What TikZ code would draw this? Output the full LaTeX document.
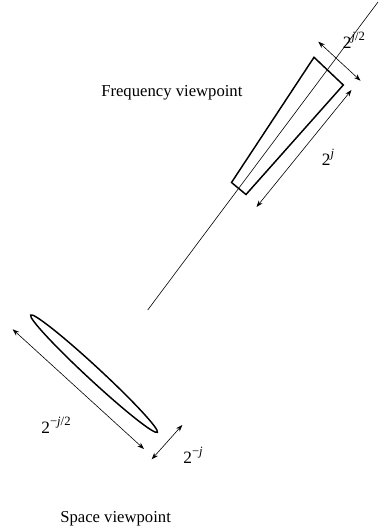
\documentclass[tikz,border=0pt]{standalone}
\usepackage{fontspec}
\setmainfont{Liberation Serif}
\usetikzlibrary{arrows.meta}
\newcommand{\upidx}[1]{\raisebox{0.45em}{\fontsize{9.5}{10}\selectfont #1}}
\begin{document}
\begin{tikzpicture}[x=0.75pt,y=-0.75pt,
  thinline/.style={line width=0.45pt},
  thickline/.style={line width=1.1pt,line join=miter},
  dimarrow/.style={line width=0.45pt,{Stealth[length=5pt,width=3.6pt]}-{Stealth[length=5pt,width=3.6pt]}},
  lbl/.style={font=\fontsize{13}{15}\selectfont,inner sep=0pt},
  caption/.style={font=\fontsize{12.5}{15}\selectfont,inner sep=0pt,anchor=base west}]
\useasboundingbox (0,0) rectangle (378,531);
% frequency viewpoint
\coordinate (la) at (147.7,310);
\coordinate (lb) at (378,2);
\draw[thinline] (la) -- (lb);
\coordinate (t1) at (231.5,182.5);
\coordinate (t2) at (314,57.3);
\coordinate (t3) at (343.3,85);
\coordinate (t4) at (246,194.5);
\draw[thickline] (t1) -- (t2) -- (t3) -- (t4) -- cycle;
\coordinate (a1) at (318.3,41.7);
\coordinate (a2) at (360.5,80.7);
\draw[dimarrow] (a1) -- (a2);
\coordinate (b1) at (256.5,207);
\coordinate (b2) at (351.5,90);
\draw[dimarrow] (b1) -- (b2);
\node[lbl] (wj2) at (354,40.5) {2\upidx{\textit{j}/2}};
\node[lbl] (wj) at (328,157.5) {2\upidx{\textit{j}}};
\node[caption] (freq) at (101,97) {Frequency viewpoint};
% space viewpoint
\coordinate (ec) at (94,373.7);
\draw[thickline,rotate around={-42.8:(ec)}] (ec) ellipse [x radius=64.7pt,y radius=5pt];
\coordinate (c1) at (12.7,329.3);
\coordinate (c2) at (144,449);
\draw[dimarrow] (c1) -- (c2);
\coordinate (d1) at (151.7,459.3);
\coordinate (d2) at (182.3,425);
\draw[dimarrow] (d1) -- (d2);
\node[lbl] (sj2) at (56,425) {2\upidx{−\textit{j}/2}};
\node[lbl] (sj) at (193,455) {2\upidx{−\textit{j}}};
\node[caption] (space) at (60,522) {Space viewpoint};
\end{tikzpicture}
\end{document}
